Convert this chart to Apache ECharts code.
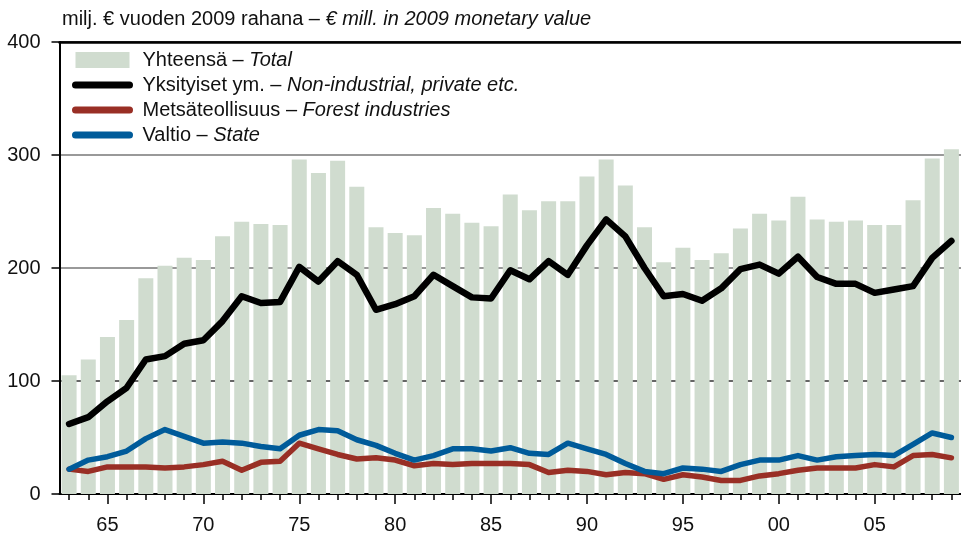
<!DOCTYPE html>
<html>
<head>
<meta charset="utf-8">
<script src="https://cdn.jsdelivr.net/npm/echarts@6/dist/echarts.min.js"></script>
<style>
  html, body { margin: 0; padding: 0; background: #fff; }
  #chart { width: 961px; height: 540px; }
</style>
</head>
<body>
<div id="chart"></div>
<script>
var years = [];
for (var y = 1963; y <= 2009; y++) years.push(String(y));

var namesFi = ["Yhteensä", "Yksityiset ym.", "Metsäteollisuus", "Valtio"];
var namesEn = ["Total", "Non-industrial, private etc.", "Forest industries", "State"];
var colors = ["#d0dccf", "#000000", "#992f25", "#005b9a"];

var total = [105, 119, 139, 154, 191, 202, 209, 207, 228, 241, 239, 238, 296, 284, 295, 272,
  236, 231, 229, 253, 248, 240, 237, 265, 251, 259, 259, 281, 296, 273, 236,
  205, 218, 207, 213, 235, 248, 242, 263, 243, 241, 242, 238, 238, 260, 297, 305];

var privateEtc = [62, 68, 82, 94, 119, 122, 133, 136, 153, 175, 169, 170, 201, 188, 206, 194,
  163, 168, 175, 194, 184, 174, 173, 198, 190, 206, 194, 220, 243, 228, 200,
  175, 177, 171, 182, 199, 203, 195, 210, 192, 186, 186, 178, 181, 184, 209, 224];

var forest = [22, 20, 24, 24, 24, 23, 24, 26, 29, 21, 28, 29, 45, 40, 35, 31,
  32, 30, 25, 27, 26, 27, 27, 27, 26, 19, 21, 20, 17, 19, 18,
  13, 17, 15, 12, 12, 16, 18, 21, 23, 23, 23, 26, 24, 34, 35, 32];

var state = [22, 30, 33, 38, 49, 57, 51, 45, 46, 45, 42, 40, 52, 57, 56, 48,
  43, 36, 30, 34, 40, 40, 38, 41, 36, 35, 45, 40, 35, 27, 20,
  18, 23, 22, 20, 26, 30, 30, 34, 30, 33, 34, 35, 34, 44, 54, 50];

var yTicks = [0, 100, 200, 300, 400];

var fontFam = "'Liberation Sans Narrow', 'Arial Narrow', 'Liberation Sans', sans-serif";

var chart = echarts.init(document.getElementById("chart"), null, {renderer: "canvas"});

function isMajor(i) {
  return Number(years[i]) % 5 === 0;
}

function fullName(i) {
  return namesFi[i] + " – " + namesEn[i];
}

function label(i) {
  return '{n|' + namesFi[i] + ' – }{i|' + namesEn[i] + '}';
}

var rich = {
  n: {fontFamily: fontFam, fontSize: 20, color: "#111", fontWeight: "normal"},
  i: {fontFamily: fontFam, fontSize: 20, color: "#111", fontWeight: "normal", fontStyle: "italic"}
};

function lineLegend(i) {
  return {
    name: fullName(i),
    itemStyle: {color: "rgba(0,0,0,0)", borderWidth: 0},
    lineStyle: {color: colors[i], width: 7, cap: "round"}
  };
}

chart.setOption({
  animation: false,
  textStyle: {fontFamily: fontFam},
  title: {
    text: '{n|milj. € vuoden 2009 rahana – }{i|€ mill. in 2009 monetary value}',
    left: 57,
    top: 4,
    textStyle: {rich: rich, fontWeight: "normal"}
  },
  legend: {
    orient: "vertical",
    left: 72,
    top: 50,
    padding: 0,
    itemWidth: 54,
    itemHeight: 16,
    itemGap: 5,
    itemTextGap: 14,
    data: [
      {name: fullName(0), icon: "rect"},
      lineLegend(1),
      lineLegend(2),
      lineLegend(3)
    ],
    formatter: function (name) {
      for (var i = 0; i < namesFi.length; i++) {
        if (name === fullName(i)) return label(i);
      }
      return name;
    },
    textStyle: {rich: rich, padding: [0, 0, 0, 8]},
    selectedMode: false
  },
  grid: {left: 59.5, right: -6.7, top: 42, bottom: 46, containLabel: false},
  xAxis: [
    {
      type: "category",
      data: years,
      boundaryGap: true,
      axisLine: {show: true, lineStyle: {color: "#000", width: 2}},
      axisTick: {show: true, alignWithLabel: true, interval: 0, length: 6, lineStyle: {color: "#000", width: 1.5}},
      axisLabel: {show: false},
      splitLine: {show: false}
    },
    {
      type: "category",
      data: years,
      position: "bottom",
      boundaryGap: true,
      axisLine: {show: false},
      axisTick: {
        show: true, alignWithLabel: true, length: 10,
        interval: function (i) { return isMajor(i); },
        lineStyle: {color: "#000", width: 1.5}
      },
      axisLabel: {
        show: true, margin: 21, fontSize: 20, color: "#111", fontFamily: fontFam,
        interval: function (i) { return isMajor(i); },
        formatter: function (v) { return v.slice(2); }
      },
      splitLine: {show: false}
    },
    {
      type: "category",
      data: years,
      position: "top",
      axisLine: {show: true, lineStyle: {color: "#000", width: 2.5}},
      axisTick: {show: false},
      axisLabel: {show: false}
    }
  ],
  yAxis: {
    type: "value",
    min: yTicks[0],
    max: yTicks[yTicks.length - 1],
    interval: 100,
    axisLine: {show: true, lineStyle: {color: "#000", width: 2}},
    axisTick: {show: true, length: 8, lineStyle: {color: "#000", width: 1.5}},
    axisLabel: {margin: 19, fontSize: 20, color: "#111", fontFamily: fontFam},
    splitLine: {show: true, lineStyle: {color: ["#000", "#333", "#777", "#777", "#000"], width: 1.5}}
  },
  series: [
    {
      name: fullName(0),
      type: "bar",
      data: total,
      barWidth: 15,
      itemStyle: {color: colors[0]},
      z: 1
    },
    {
      name: fullName(1),
      type: "line",
      data: privateEtc,
      symbol: "none",
      lineStyle: {color: colors[1], width: 6.5, cap: "round", join: "round"},
      itemStyle: {color: colors[1]},
      z: 3
    },
    {
      name: fullName(2),
      type: "line",
      data: forest,
      symbol: "none",
      lineStyle: {color: colors[2], width: 5.5, cap: "round", join: "round"},
      itemStyle: {color: colors[2]},
      z: 4
    },
    {
      name: fullName(3),
      type: "line",
      data: state,
      symbol: "none",
      lineStyle: {color: colors[3], width: 5.5, cap: "round", join: "round"},
      itemStyle: {color: colors[3]},
      z: 5
    }
  ]
});

window.addEventListener("resize", function () {
  chart.resize();
});
</script>
</body>
</html>
